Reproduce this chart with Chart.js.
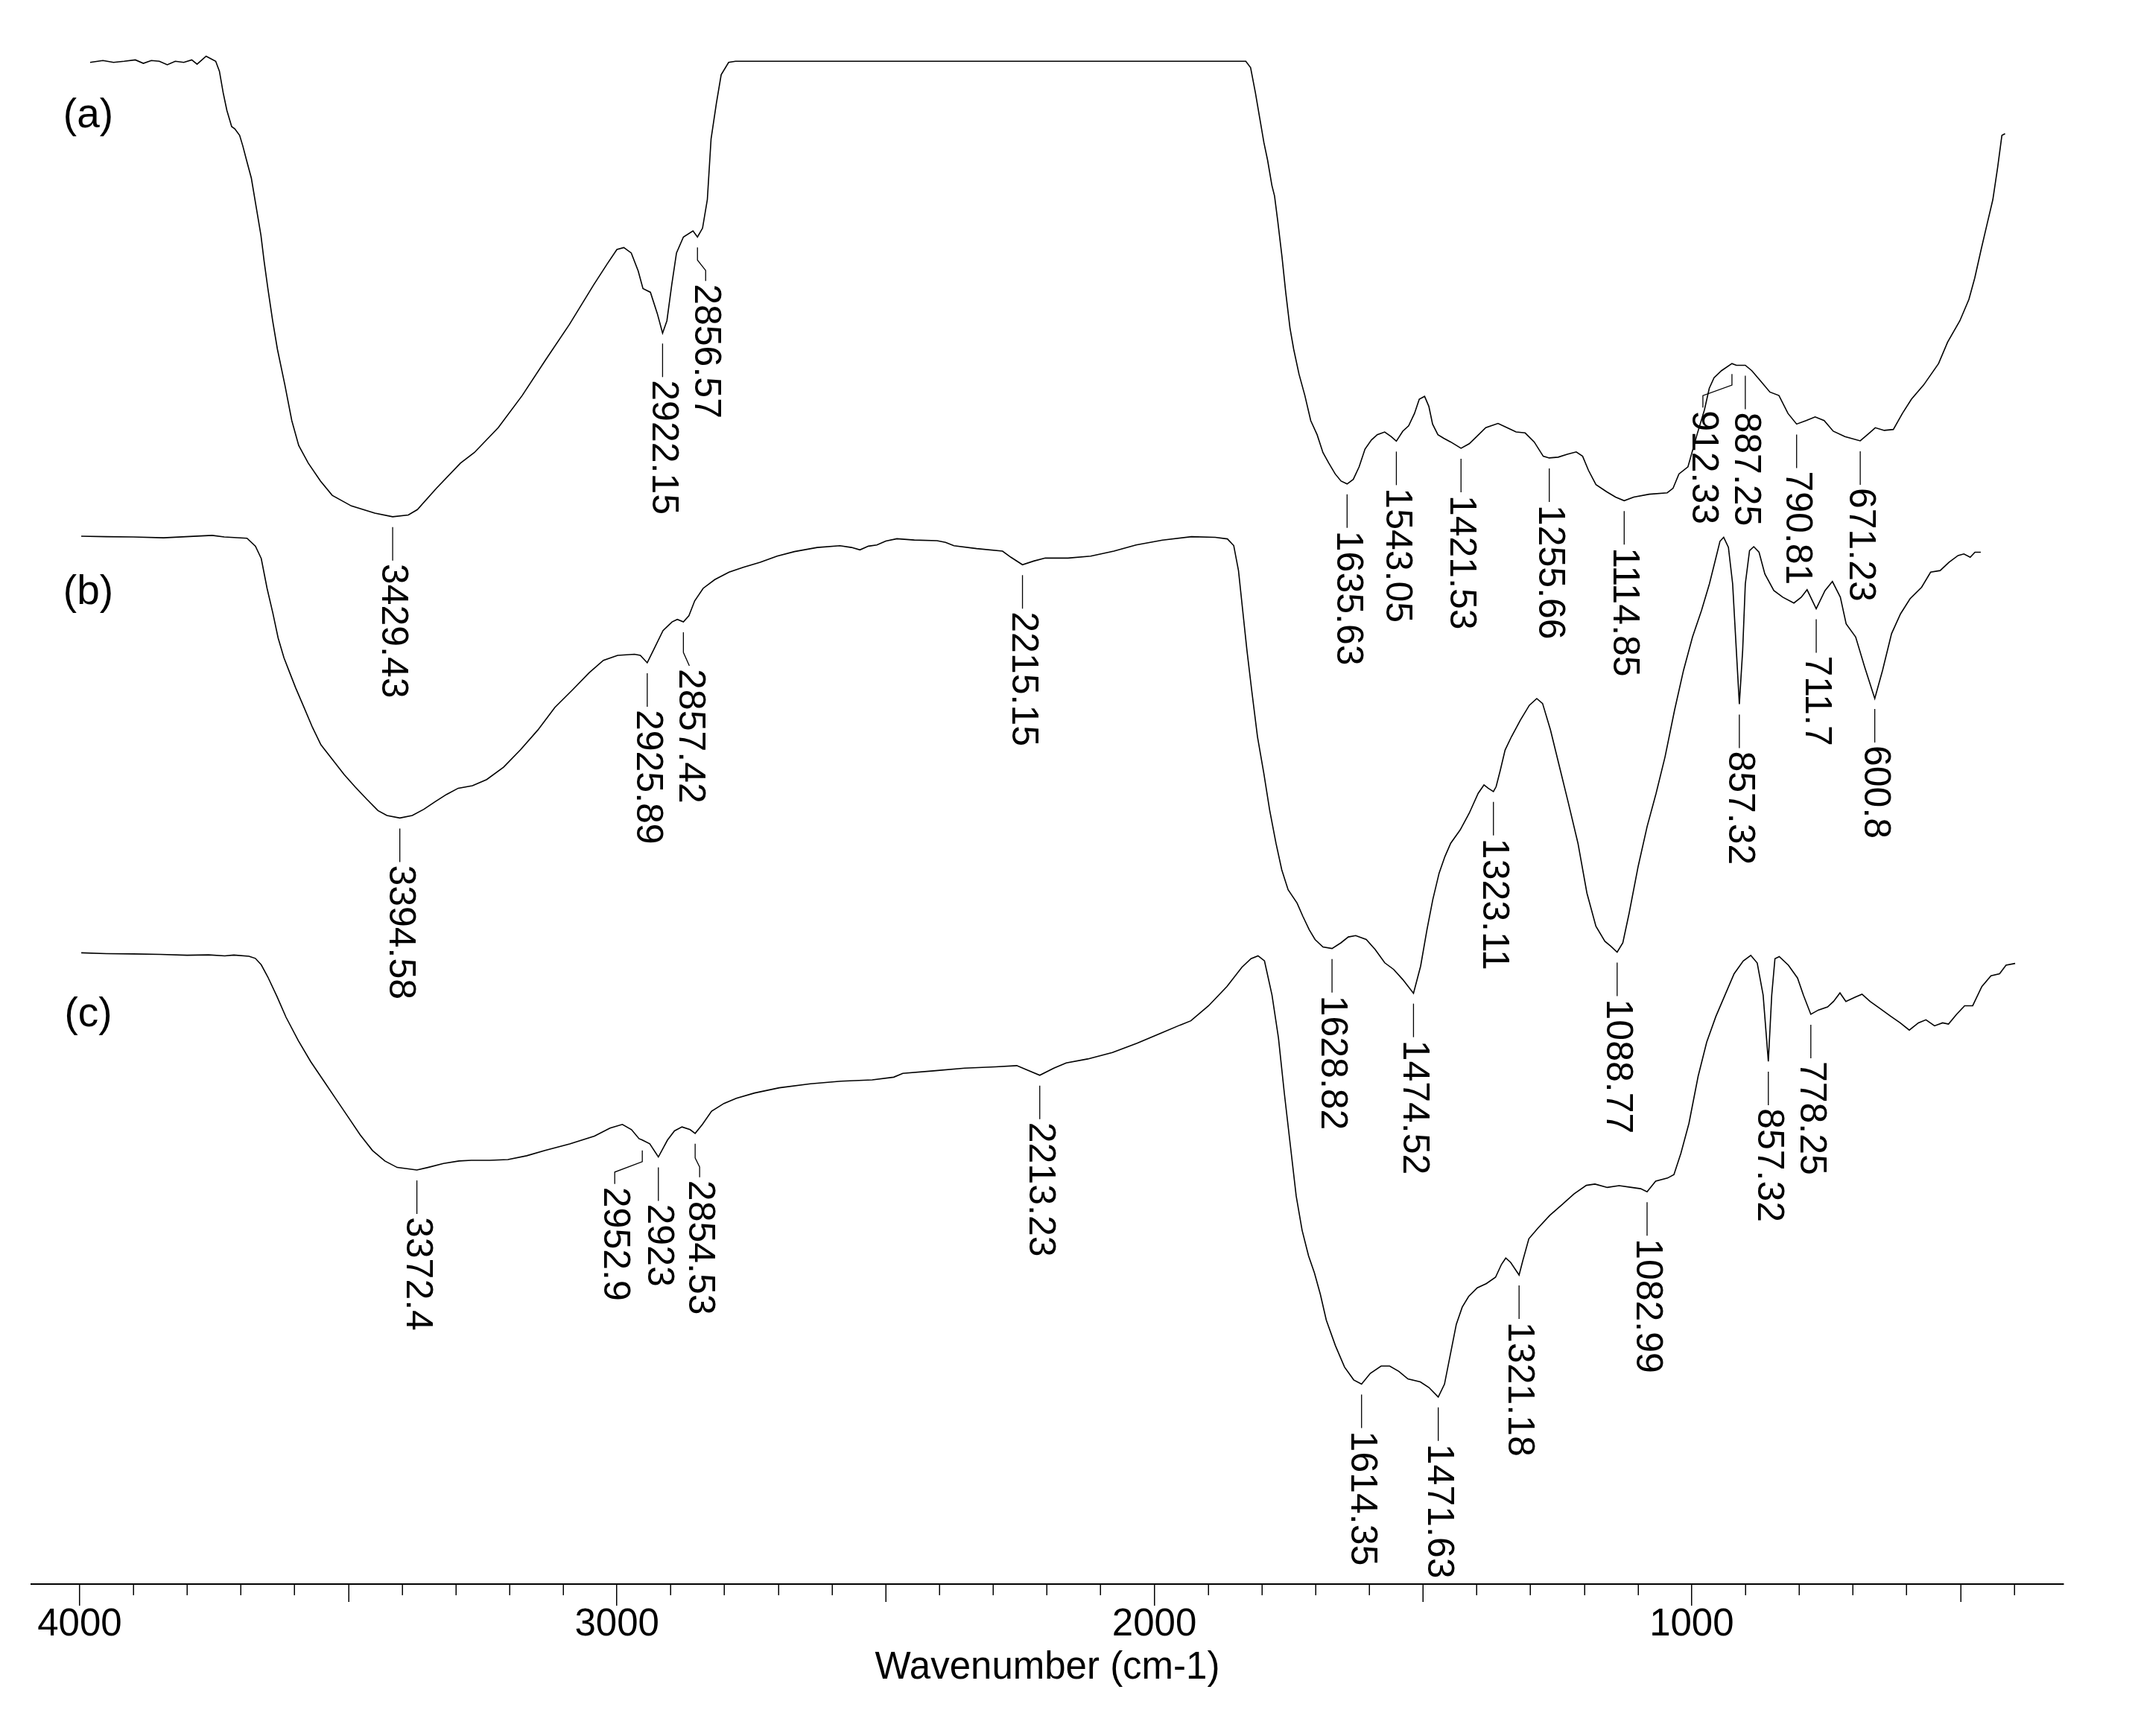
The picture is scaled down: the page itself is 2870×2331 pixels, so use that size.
<!DOCTYPE html>
<html><head><meta charset="utf-8">
<script src="https://cdn.jsdelivr.net/npm/chart.js@4.4.1/dist/chart.umd.min.js"></script>
<style>html,body{margin:0;padding:0;background:#fff}canvas{display:block}</style>
</head><body>
<canvas id="c" width="2870" height="2331" style="width:2870px;height:2331px"></canvas>
<script>
// ---------- DATA ----------
const tickValues = [1000, 2000, 3000, 4000];
const axisTitle = 'Wavenumber (cm-1)';
const seriesNames = ['(a)', '(b)', '(c)'];

const waveA = [3998,3974,3954,3934,3913,3898,3883,3868,3853,3838,3822,3807,3797,3780,3762,3755,3748,3741,3732,3726,3717,3711,3704,3695,3686,3677,3671,3664,3655,3646,3632,3619,3606,3588,3565,3543,3507,3463,3429.43,3400,3383,3347,3302,3276,3231,3186,3142,3097,3052,3026,3008,2995,2981,2968,2959,2945,2932,2922.15,2914,2905,2896,2883,2865,2856.57,2847,2838,2831,2821,2812,2798,2785,
1826,1817,1808,1800,1792,1785,1777,1772,1766,1758,1751,1743,1736,1726,1715,1704,1692,1681,1670,1658,1647,1635.63,1624,1613,1602,1590,1579,1565,1553,1543.05,1531,1520,1509,1500,1490,1482,1475,1465,1454,1441,1421.53,1406,1392,1375,1352,1335,1318,1301,1284,1267,1255.66,1239,1222,1205,1193,1182,1168,1148,1131,1114.85,1097,1068,1034,1023,1012,995,978,964,955,946,932,912.33,904,887.25,875,858,841,824,807,790.81,773,756,739,722,700,671.23,654,643,626,609,592,575,552,524,507,484,467,456,444,433,422,413,405,399];
const transA = [96.06,96.18,96.06,96.13,96.22,96.0,96.18,96.13,95.91,96.13,96.06,96.22,95.95,96.45,96.13,95.5,94.15,93.03,92.01,91.86,91.45,90.78,89.88,88.75,86.95,85.15,83.5,81.8,79.75,77.95,75.7,73.45,71.88,70.76,69.63,68.73,68.06,67.61,67.38,67.49,67.83,69.18,70.76,71.43,73.0,75.03,77.28,79.53,82.0,83.35,84.25,84.37,84.03,82.9,81.78,81.55,80.2,78.97,79.75,82.0,84.03,85.04,85.42,85.04,85.6,87.4,91.23,93.48,95.28,96.06,96.13,
96.13,95.73,94.15,92.58,91.0,89.88,88.30,87.63,86.05,83.80,81.55,79.30,77.95,76.38,75.03,73.45,72.56,71.43,70.76,70.08,69.63,69.45,69.74,70.53,71.65,72.22,72.56,72.73,72.44,72.15,72.78,73.12,73.90,74.80,74.98,74.35,73.23,72.56,72.33,72.10,71.70,71.99,72.44,73.0,73.27,73.0,72.73,72.67,72.10,71.20,71.09,71.14,71.32,71.47,71.20,70.31,69.41,68.96,68.62,68.39,68.62,68.80,68.89,69.18,70.08,70.53,72.56,74.13,75.48,76.15,76.60,77.05,76.94,76.94,76.60,75.93,75.25,75.03,73.90,73.23,73.45,73.68,73.45,72.78,72.44,72.17,72.67,73.0,72.83,72.89,73.90,74.80,75.70,77.05,78.40,79.75,81.10,82.45,84.25,85.83,87.40,89.43,91.45,91.56];

const waveB = [3998,3950,3900,3842,3800,3750,3727,3684,3668,3657,3646,3635,3625,3614,3603,3592,3576,3560,3544,3522,3500,3479,3457,3436,3419,3394.58,3371,3349,3328,3306,3284,3257,3230,3198,3166,3133,3101,3068,3036,3009,2982,2950,2939,2925.89,2912,2896,2879,2869,2857.42,2847,2836,2820,2798,2771,2744,2712,2680,2647,2604,2561,2539,2523,2507,2491,2474,2453,2420,2377,2361,2345,2302,2253,2237,2215.15,2194,2172,2129,2086,2042,2000,1950,1895,1850,1827,1815,1806,1798,1790,1781,1770,1758,1747,1735,1724,1712,1695,1684,1672,1661,1646,1628.82,1612,1598,1584,1564,1547,1529,1512,1495,1474.52,1461,1449,1438,1426,1415,1404,1386,1369,1352,1341,1333,1323.11,1318,1310,1301,1289,1272,1255,1241,1230,1215,1198,1181,1163,1146,1129,1112,1101,1088.77,1078,1066,1049,1032,1015,998,980,963,946,929,914,903,894,887,878,870,863,857.32,851,846,838,830,820,809,792,775,754,740,729,711.7,695,681,666,655,637,620,600.8,586,569,552,534,512,495,477,460,443,432,420,411,400];
const transB = [66.15,66.12,66.10,66.05,66.12,66.20,66.10,66.02,65.52,64.74,62.86,61.29,59.72,58.47,57.53,56.59,55.34,54.08,52.98,52.04,51.10,50.32,49.54,48.83,48.52,48.36,48.52,48.91,49.38,49.85,50.24,50.40,50.79,51.57,52.67,53.92,55.34,56.43,57.53,58.31,58.63,58.70,58.63,58.16,59.10,60.19,60.74,60.90,60.74,61.13,62.07,62.86,63.41,63.88,64.19,64.50,64.89,65.18,65.44,65.55,65.44,65.29,65.52,65.60,65.84,65.99,65.91,65.87,65.76,65.55,65.37,65.21,64.82,64.35,64.58,64.77,64.77,64.89,65.21,65.6,65.9,66.12,66.08,65.98,65.56,63.98,61.46,58.95,56.43,53.49,51.18,48.87,46.77,45.09,43.83,42.99,42.15,41.31,40.69,40.22,40.12,40.48,40.85,40.94,40.69,40.06,39.22,38.80,38.17,37.3,39.01,41.31,43.20,44.88,45.93,46.77,47.61,48.66,49.92,50.45,50.24,50.03,50.34,51.39,52.65,53.49,54.54,55.48,55.90,55.59,53.91,51.60,49.29,46.77,43.62,41.53,40.58,40.27,39.89,40.48,42.36,45.30,47.82,49.92,52.23,55.17,57.69,59.79,61.46,63.14,64.61,65.83,66.08,65.45,63.14,58.95,55.55,58.95,63.14,65.24,65.49,65.14,63.77,62.72,62.30,61.93,62.30,62.77,61.57,62.72,63.29,62.30,60.62,59.79,57.90,55.90,57.69,60.0,61.25,62.20,62.93,63.88,63.98,64.51,64.93,65.03,64.82,65.14,65.14];

const waveC = [3997,3950,3900,3850,3800,3760,3730,3713,3685,3673,3662,3650,3633,3616,3593,3570,3547,3524,3501,3478,3455,3432,3409,3372.4,3352,3323,3294,3271,3237,3203,3168,3134,3088,3042,3013,2990,2973,2959,2952.9,2939,2923,2906,2893,2879,2864,2854.53,2841,2824,2801,2778,2744,2698,2640,2583,2525,2485,2468,2411,2353,2296,2256,2239,2213.23,2187,2164,2124,2078,2032,1986,1952,1932,1899,1865,1837,1820,1807,1795,1781,1769,1758,1747,1736,1725,1713,1702,1691,1680,1663,1646,1629,1614.35,1598,1578,1562,1545,1528,1505,1489,1471.63,1460,1449,1438,1427,1415,1399,1382,1365,1354,1346,1337,1321.18,1314,1303,1286,1264,1241,1219,1196,1180,1157,1135,1112,1095,1082.99,1067,1045,1033,1020,1005,988,972,955,938,921,904,890,878,867,857.32,851,845,837,820,803,792,778.25,764,747,736,724,713,696,683,668,651,629,612,595,578,564,548,533,522,507,492,477,460,443,427,415,398];
const transC = [39.85,39.80,39.78,39.75,39.70,39.72,39.66,39.71,39.63,39.50,39.09,38.34,37.11,35.79,34.30,32.98,31.83,30.67,29.52,28.36,27.37,26.71,26.30,26.14,26.30,26.55,26.71,26.75,26.75,26.80,27.04,27.37,27.79,28.28,28.78,29.02,28.69,28.12,28.03,27.79,26.96,28.03,28.61,28.86,28.69,28.45,29.02,29.85,30.34,30.67,31.0,31.33,31.58,31.75,31.83,32.0,32.24,32.40,32.57,32.65,32.73,32.49,32.12,32.57,32.90,33.15,33.56,34.14,34.80,35.29,35.56,36.51,37.72,38.94,39.48,39.66,39.34,37.18,34.48,30.97,27.74,24.50,22.34,20.72,19.64,18.29,16.67,15.05,13.70,12.89,12.62,13.30,13.76,13.76,13.43,12.95,12.76,12.41,11.81,12.62,14.51,16.40,17.48,18.16,18.70,18.97,19.37,20.18,20.58,20.31,19.51,20.45,21.80,22.47,23.28,23.96,24.63,25.17,25.25,25.04,25.15,25.04,24.96,24.77,25.44,25.63,25.85,27.20,29.09,32.05,34.21,35.83,37.18,38.53,39.34,39.69,39.21,37.18,33.0,37.18,39.48,39.61,39.07,38.26,37.18,35.97,36.24,36.43,36.78,37.32,36.78,37.05,37.24,36.78,36.37,35.83,35.43,34.97,35.43,35.62,35.24,35.43,35.35,35.97,36.51,36.51,37.72,38.40,38.53,39.07,39.18];

// peak annotations (wavenumber of labelled point, and its printed text)
const peaksA = [3429.43, 2922.15, 2856.57, 1635.63, 1543.05, 1421.53, 1255.66, 1114.85, 912.33, 887.25, 790.81, 671.23];
const peakTextA = ['3429.43','2922.15','2856.57','1635.63','1543.05','1421.53','1255.66','1114.85','912.33','887.25','790.81','671.23'];
const peaksB = [3394.58, 2925.89, 2857.42, 2215.15, 1628.82, 1474.52, 1323.11, 1088.77, 857.32, 711.7, 600.8];
const peakTextB = ['3394.58','2925.89','2857.42','2215.15','1628.82','1474.52','1323.11','1088.77','857.32','711.7','600.8'];
const peaksC = [3372.4, 2952.9, 2923, 2854.53, 2213.23, 1614.35, 1471.63, 1321.18, 1082.99, 857.32, 778.25];
const peakTextC = ['3372.4','2952.9','2923','2854.53','2213.23','1614.35','1471.63','1321.18','1082.99','857.32','778.25'];

// ---------- STYLE / LAYOUT ----------
const FONT = '"Liberation Sans", Arial, Helvetica, sans-serif';
const leaderStyle = { gap: 14, end: 59, text: 63 };
const bends = {
  'a|2856.57': { dx: 11, l1: 17, l2: 14 },
  'a|912.33':  { dx: -39, l1: 15, l2: 14 },
  'b|2857.42': { dx: 8, l1: 27, l2: 18 },
  'c|2952.9':  { dx: -37, l1: 15, l2: 14 },
  'c|2854.53': { dx: 6, l1: 19, l2: 12 }
};
const nameLayout = { x: 3984, y: [91.96, 61.87, 35.21] };

Chart.defaults.font.family = FONT;
Chart.defaults.color = '#000';

const mk = (w, t) => w.map((x, i) => ({ x: x, y: t[i] }));

const series = [
  { key: 'a', axis: 'xa', data: mk(waveA, transA), peaks: peaksA, texts: peakTextA },
  { key: 'b', axis: 'xb', data: mk(waveB, transB), peaks: peaksB, texts: peakTextB },
  { key: 'c', axis: 'x',  data: mk(waveC, transC), peaks: peaksC, texts: peakTextC }
];

const annot = {
  id: 'annot',
  afterDraw(chart) {
    const ctx = chart.ctx, xs = chart.scales.x, ys = chart.scales.y;
    const base = chart.chartArea.bottom;
    ctx.save();
    ctx.strokeStyle = '#000';
    ctx.fillStyle = '#000';
    ctx.lineWidth = 1.5;
    // minor / medium tick marks
    for (let v = 400; v < 4000; v += 100) {
      if (v % 1000 === 0) continue;
      const px = Math.round(xs.getPixelForValue(v)) + 0.25;
      const len = (v % 500 === 0) ? 24 : 15;
      ctx.beginPath(); ctx.moveTo(px, base); ctx.lineTo(px, base + len); ctx.stroke();
    }
    // series names
    ctx.font = '55px ' + FONT;
    ctx.textAlign = 'center';
    ctx.textBaseline = 'alphabetic';
    seriesNames.forEach((n, i) => {
      ctx.fillText(n, xs.getPixelForValue(nameLayout.x), ys.getPixelForValue(nameLayout.y[i]));
    });
    // peak labels
    ctx.font = '50px ' + FONT;
    ctx.lineWidth = 1.3;
    series.forEach(s => {
      const sx = chart.scales[s.axis];
      s.peaks.forEach((wn, i) => {
        const pt = s.data.find(p => p.x === wn);
        if (!pt) return;
        const px = sx.getPixelForValue(wn), py = ys.getPixelForValue(pt.y);
        const b = bends[s.key + '|' + s.texts[i]];
        const lx = px + (b ? b.dx : 0);
        ctx.beginPath();
        ctx.moveTo(px, py + leaderStyle.gap);
        if (b) {
          ctx.lineTo(px, py + leaderStyle.gap + b.l1);
          ctx.lineTo(lx, py + leaderStyle.gap + b.l1 + b.l2);
        }
        ctx.lineTo(lx, py + leaderStyle.end);
        ctx.stroke();
        ctx.save();
        ctx.translate(lx, py + leaderStyle.text);
        ctx.rotate(Math.PI / 2);
        ctx.textAlign = 'left';
        ctx.textBaseline = 'middle';
        ctx.fillText(s.texts[i], 0, 0);
        ctx.restore();
      });
    });
    ctx.restore();
  }
};

new Chart(document.getElementById('c'), {
  type: 'line',
  data: {
    datasets: series.map(s => ({
      label: s.key, data: s.data, xAxisID: s.axis, yAxisID: 'y',
      borderColor: '#000', borderWidth: 1.6, pointRadius: 0, tension: 0, fill: false
    }))
  },
  options: {
    responsive: false, animation: false, devicePixelRatio: 1,
    parsing: true,
    layout: { padding: { left: 42, right: 100, top: 0, bottom: 66 } },
    plugins: { legend: { display: false }, tooltip: { enabled: false }, title: { display: false } },
    scales: {
      x: {
        type: 'linear', position: 'bottom', reverse: true, min: 308, max: 4090,
        afterBuildTicks: (s) => { s.ticks = tickValues.map(v => ({ value: v })); },
        ticks: { autoSkip: false, maxRotation: 0, minRotation: 0, padding: 0, color: '#000',
                 font: { size: 51, lineHeight: 1 }, callback: (v) => String(v) },
        grid: { display: true, drawOnChartArea: false, drawTicks: true, tickLength: 29, color: '#000', lineWidth: 1.5 },
        border: { display: true, color: '#000', width: 2 },
        title: { display: true, text: axisTitle, color: '#000', font: { size: 51, lineHeight: 1 }, padding: { top: 7, bottom: 0 } }
      },
      xa: { type: 'linear', axis: 'x', position: 'bottom', reverse: true, display: false, min: 289.2, max: 4108.6 },
      xb: { type: 'linear', axis: 'x', position: 'bottom', reverse: true, display: false, min: 243.3, max: 4092.6 },
      y: { type: 'linear', display: false, min: 0, max: 100 }
    }
  },
  plugins: [annot]
});
</script>
</body></html>
